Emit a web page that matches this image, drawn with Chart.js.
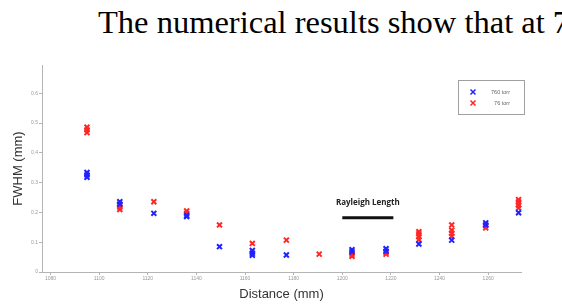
<!DOCTYPE html>
<html>
<head>
<meta charset="utf-8">
<script src="https://cdn.jsdelivr.net/npm/chart.js@4.4.1/dist/chart.umd.min.js"></script>
<style>
  html, body { margin: 0; padding: 0; background: #fff; }
  body { width: 562px; height: 304px; position: relative; overflow: hidden; }
  #lead {
    position: absolute; left: 98px; top: 6px; white-space: nowrap; line-height: 32.5px;
    font-family: "Liberation Serif", "Times New Roman", serif; font-size: 32.5px; color: #000;
  }
  #wrap { position: absolute; left: 0; top: 0; width: 562px; height: 304px; }
</style>
</head>
<body>
<div id="lead">The numerical results show that at 760 torr</div>
<div id="wrap"><canvas id="c"></canvas></div>

<script>
'use strict';

// ── Data ──────────────────────────────────────────────────
const distance = [1095, 1108.5, 1122.5, 1136, 1149.5, 1163, 1177, 1190.5, 1204, 1218, 1231.5, 1245, 1259, 1272.5];

// repeated readings at each distance (mm)
const fwhm760 = [
  [0.318, 0.326, 0.334], [0.228, 0.236], [0.197], [0.186, 0.19], [0.085],
  [0.056, 0.063, 0.072], [0.057], [], [0.068, 0.075], [0.07, 0.078],
  [0.094], [0.107], [0.158, 0.165], [0.199]
];
const fwhm76 = [
  [0.468, 0.477, 0.486], [0.21, 0.218, 0.226], [0.236], [0.197, 0.205], [0.158],
  [0.096], [0.107], [0.06], [0.053, 0.06], [0.06, 0.066],
  [0.108, 0.118, 0.128, 0.135], [0.119, 0.13, 0.14, 0.158], [0.148, 0.156],
  [0.215, 0.225, 0.235, 0.243]
];

const seriesLabels = ['760 torr', '76 torr'];
const xTicks = [1080, 1100, 1120, 1140, 1160, 1180, 1200, 1220, 1240, 1260];
const yTicks = [0, 0.1, 0.2, 0.3, 0.4, 0.5, 0.6];

const rayleighX = [1200, 1221];
const rayleighY = 0.182;
const rayleighLabel = 'Rayleigh Length';

// ── Helpers ───────────────────────────────────────────────
function toPoints(runs) {
  const pts = [];
  runs.forEach((vals, i) => vals.forEach(v => pts.push({ x: distance[i], y: v })));
  return pts;
}

const BLUE = '#2222ff';
const RED  = '#ff2626';
const AXIS = '#b4b4b4';
const TICK = '#999';

// ── Plugins ───────────────────────────────────────────────
const rayleighText = {
  id: 'rayleighText',
  afterDatasetsDraw(chart) {
    const { ctx, scales: { x, y } } = chart;
    const cx = (x.getPixelForValue(rayleighX[0]) + x.getPixelForValue(rayleighX[1])) / 2;
    const cy = y.getPixelForValue(rayleighY) - 15;
    ctx.save();
    ctx.font = 'bold 8px "Open Sans", "DejaVu Sans", sans-serif';
    ctx.fillStyle = '#222';
    ctx.textAlign = 'center';
    ctx.textBaseline = 'middle';
    ctx.fillText(rayleighLabel, cx, cy);
    ctx.restore();
  }
};

// legend in a small framed box, top right
const boxLegend = {
  id: 'boxLegend',
  afterDraw(chart) {
    const ctx = chart.ctx;
    ctx.save();
    ctx.strokeStyle = '#a0a0a0';
    ctx.lineWidth = 1;
    ctx.strokeRect(458.5, 80.5, 66, 34);
    ctx.font = '5.5px "Liberation Sans", Arial, sans-serif';
    ctx.textAlign = 'right';
    ctx.textBaseline = 'middle';
    [0, 1].forEach(i => {
      const ds = chart.data.datasets[i];
      const yy = 92 + i * 11;
      ctx.strokeStyle = ds.borderColor;
      ctx.lineWidth = 1.5;
      ctx.beginPath();
      ctx.moveTo(470.5, yy - 2.5); ctx.lineTo(475.5, yy + 2.5);
      ctx.moveTo(475.5, yy - 2.5); ctx.lineTo(470.5, yy + 2.5);
      ctx.stroke();
      ctx.fillStyle = '#666';
      ctx.fillText(ds.label, 510, yy);
    });
    ctx.restore();
  }
};

// ── Chart ─────────────────────────────────────────────────
const markerOpts = { pointStyle: 'crossRot', pointRadius: 3.5, pointBorderWidth: 2, showLine: false, clip: false };

new Chart(document.getElementById('c'), {
  type: 'scatter',
  data: {
    datasets: [
      { label: seriesLabels[0], data: toPoints(fwhm760), borderColor: BLUE, backgroundColor: BLUE, ...markerOpts },
      { label: seriesLabels[1], data: toPoints(fwhm76),  borderColor: RED,  backgroundColor: RED,  ...markerOpts },
      {
        label: 'rayleigh', type: 'line',
        data: rayleighX.map(v => ({ x: v, y: rayleighY })),
        borderColor: '#111', borderWidth: 3, pointRadius: 0
      }
    ]
  },
  options: {
    responsive: true, maintainAspectRatio: false, animation: false,
    layout: { padding: { top: 65, right: 41, left: 0, bottom: 0 } },
    plugins: { legend: { display: false }, tooltip: { enabled: false } },
    scales: {
      x: {
        type: 'linear', min: 1076.5, max: 1273.5,
        afterBuildTicks: s => { s.ticks = xTicks.map(v => ({ value: v })); },
        afterFit: s => { s.height = 32; },
        border: { color: AXIS, width: 1 },
        grid: { drawOnChartArea: false, color: AXIS, tickLength: 3 },
        ticks: { color: TICK, font: { size: 5 }, padding: 1, maxRotation: 0, autoSkip: false, callback: v => String(v) },
        title: {
          display: true, text: 'Distance (mm)', color: '#333',
          font: { size: 13, family: '"Liberation Sans", Arial, sans-serif' },
          padding: { top: 0, bottom: 2 }
        }
      },
      y: {
        min: 0, max: 0.695,
        afterBuildTicks: s => { s.ticks = yTicks.map(v => ({ value: v })); },
        afterFit: s => { s.width = 42; },
        border: { color: AXIS, width: 1 },
        grid: { drawOnChartArea: false, color: AXIS, tickLength: 3 },
        ticks: {
          color: TICK, font: { size: 5 }, padding: 1,
          callback: v => v === 0 ? '0' : v.toFixed(1)
        },
        title: {
          display: true, text: 'FWHM (mm)', color: '#333',
          font: { size: 13, family: '"Liberation Sans", Arial, sans-serif' },
          padding: { top: 11, bottom: 0 }
        }
      }
    }
  },
  plugins: [rayleighText, boxLegend]
});
</script>
</body>
</html>
